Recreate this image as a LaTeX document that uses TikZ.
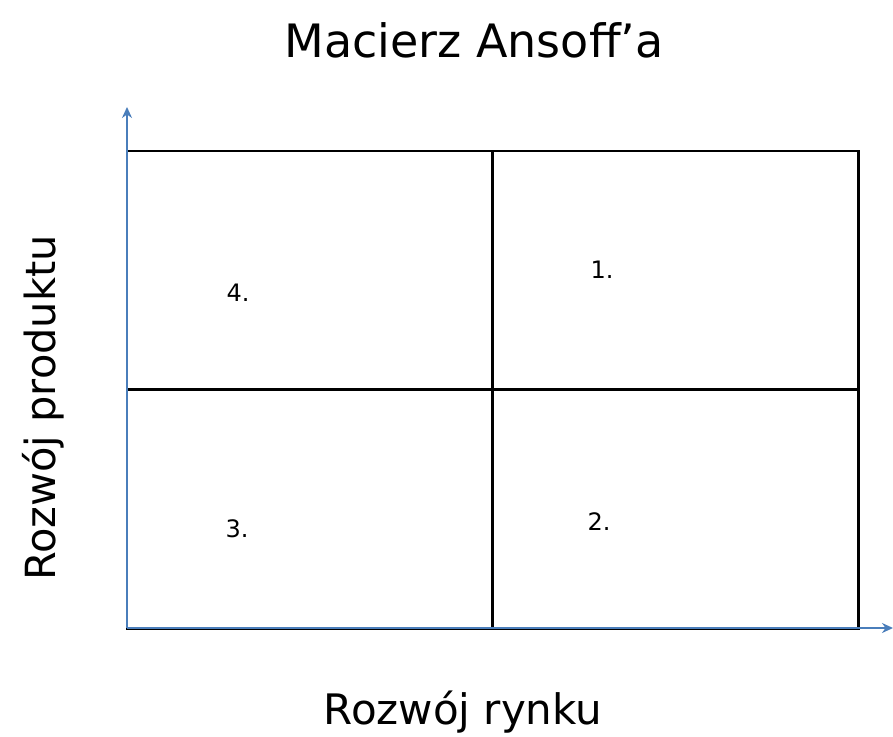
\documentclass[tikz,border=0pt]{standalone}
\usepackage{fontspec}
\setmainfont{DejaVu Sans}
\definecolor{axisBlue}{HTML}{4A7EBB}
\usetikzlibrary{arrows.meta,positioning}

\begin{document}
\begin{tikzpicture}[
  x=1pt, y=-1pt,
  cell/.style={draw=black, line width=2.2pt, minimum width=366pt,
               minimum height=239pt, inner sep=0pt, outer sep=0pt},
  num/.style={font=\fontsize{24}{28}\selectfont, inner sep=0pt},
  axis/.style={-{Stealth[length=11pt,width=10pt]}, axisBlue, line width=2.6pt}
]
\useasboundingbox (0,0) rectangle (893,736);
% quadrants
\node[cell] (q4) at (310,270.5) {};
\node[cell] (q1) at (675.5,270.5) {};
\node[cell] (q3) at (310,509) {};
\node[cell] (q2) at (675.5,509) {};
% numbers
\node[num] (n4) at (238,293) {4.};
\node[num] (n1) at (602,270) {1.};
\node[num] (n3) at (237,529) {3.};
\node[num] (n2) at (599,522) {2.};
% axes
\coordinate (origin) at (127,628);
\coordinate (ytop) at (127,107);
\coordinate (xend) at (893,628);
\draw[axis] (origin) -- (ytop);
\draw[axis] (origin) -- (xend);
% texts
\node[font=\fontsize{46}{52}\selectfont] (title) at (474,40) {Macierz Ansoff’a};
\node[font=\fontsize{42}{48}\selectfont] (xlab) at (463,712) {Rozwój rynku};
\node[font=\fontsize{41.5}{47}\selectfont, rotate=90] (ylab) at (43,408) {Rozwój produktu};
\end{tikzpicture}
\end{document}
